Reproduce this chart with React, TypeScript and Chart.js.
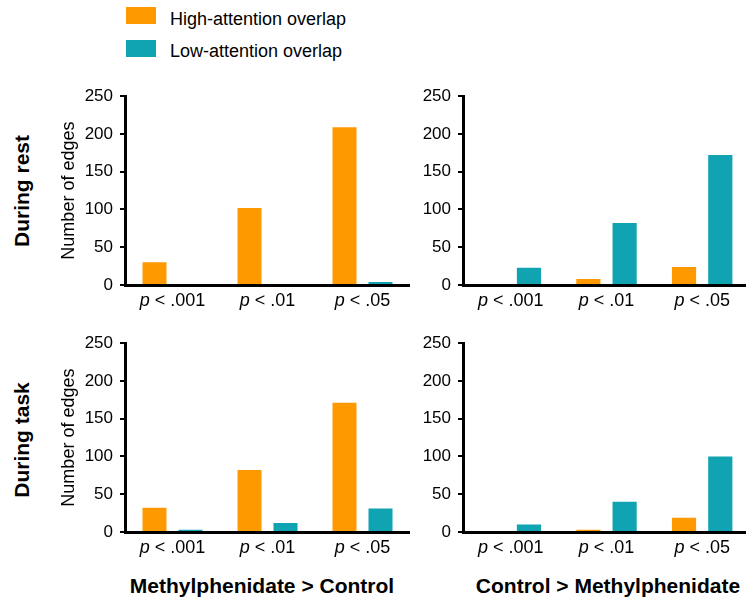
import React, { useEffect, useRef } from "react";
import { Chart, registerables } from "chart.js";

Chart.register(...registerables);

const FONT = '"Liberation Sans", Arial, Helvetica, sans-serif';

// ---- data ----
const THRESHOLDS = [".001", ".01", ".05"];
const SERIES_NAMES = ["High-attention overlap", "Low-attention overlap"];
const SERIES_COLORS = ["#FF9900", "#10A3B2"];

const REST_MPH_GT_CTRL_HIGH = [30, 102, 209];
const REST_MPH_GT_CTRL_LOW = [0, 0, 4];
const REST_CTRL_GT_MPH_HIGH = [0, 8, 24];
const REST_CTRL_GT_MPH_LOW = [23, 82, 172];
const TASK_MPH_GT_CTRL_HIGH = [32, 82, 171];
const TASK_MPH_GT_CTRL_LOW = [3, 12, 31];
const TASK_CTRL_GT_MPH_HIGH = [0, 3, 19];
const TASK_CTRL_GT_MPH_LOW = [10, 40, 100];

const Y_MIN = 0;
const Y_MAX = 250;
const Y_STEP = 50;
const Y_TITLE = "Number of edges";
const ROW_LABELS = ["During rest", "During task"];
const COL_LABELS = ["Methylphenidate > Control", "Control > Methylphenidate"];

const pLabelPlugin = {
  id: "pLabels",
  afterDraw(chart: any) {
    const { ctx, chartArea, scales } = chart;
    const xs = scales.x;
    ctx.save();
    ctx.fillStyle = "#000";
    ctx.textBaseline = "alphabetic";
    ctx.textAlign = "left";
    const italic = `italic 18px ${FONT}`;
    const normal = `18px ${FONT}`;
    const labels = chart.data.labels as string[];
    labels.forEach((t, i) => {
      const cx = xs.getPixelForValue(i);
      const rest = " < " + t;
      ctx.font = italic;
      const w1 = ctx.measureText("p").width;
      ctx.font = normal;
      const w2 = ctx.measureText(rest).width;
      const start = cx - (w1 + w2) / 2;
      const y = chartArea.bottom + 21;
      ctx.font = italic;
      ctx.fillText("p", start, y);
      ctx.font = normal;
      ctx.fillText(rest, start + w1, y);
    });
    ctx.restore();
  },
};

type PanelProps = {
  left: number;
  top: number;
  width: number;
  height: number;
  yWidth: number;
  high: number[];
  low: number[];
  showTitle: boolean;
};

function Panel(p: PanelProps) {
  const ref = useRef<HTMLCanvasElement>(null);
  useEffect(() => {
    if (!ref.current) return;
    const chart = new Chart(ref.current, {
      type: "bar",
      data: {
        labels: THRESHOLDS,
        datasets: [
          {
            label: SERIES_NAMES[0],
            data: p.high,
            backgroundColor: SERIES_COLORS[0],
            borderWidth: 0,
            categoryPercentage: 0.758,
            barPercentage: 0.667,
          },
          {
            label: SERIES_NAMES[1],
            data: p.low,
            backgroundColor: SERIES_COLORS[1],
            borderWidth: 0,
            categoryPercentage: 0.758,
            barPercentage: 0.667,
          },
        ],
      },
      options: {
        animation: false,
        responsive: false,
        devicePixelRatio: 1,
        layout: { padding: 0 },
        plugins: {
          legend: { display: false },
          tooltip: { enabled: false },
          title: { display: false },
        },
        scales: {
          x: {
            type: "category",
            grid: { display: false },
            border: { display: true, color: "#000", width: 3 },
            ticks: { display: false },
            afterFit: (s: any) => {
              s.height = 30;
            },
          },
          y: {
            min: Y_MIN,
            max: Y_MAX,
            ticks: {
              stepSize: Y_STEP,
              color: "#000",
              padding: 7,
              font: { size: 17, family: FONT },
            },
            grid: {
              display: true,
              drawOnChartArea: false,
              drawTicks: true,
              tickLength: 5,
              color: "#000",
              lineWidth: 2,
            },
            border: { display: true, color: "#000", width: 3 },
            title: {
              display: p.showTitle,
              text: Y_TITLE,
              color: "#000",
              font: { size: 18, family: FONT },
              padding: { top: 8, bottom: 0 },
            },
            afterFit: (s: any) => {
              s.width = p.yWidth;
            },
          },
        },
      },
      plugins: [pLabelPlugin],
    } as any);
    return () => chart.destroy();
  }, []);
  return (
    <canvas
      ref={ref}
      width={p.width}
      height={p.height}
      style={{
        position: "absolute",
        left: p.left,
        top: p.top,
        width: p.width,
        height: p.height,
      }}
    />
  );
}

export default function App() {
  const rowText = (text: string, cx: number, cy: number) => (
    <div
      key={text}
      style={{
        position: "absolute",
        left: cx,
        top: cy,
        transform: "translate(-50%, -50%) rotate(-90deg)",
        font: `bold 21px ${FONT}`,
        lineHeight: "21px",
        whiteSpace: "nowrap",
        color: "#000",
      }}
    >
      {text}
    </div>
  );
  const colText = (text: string, cx: number) => (
    <div
      key={text}
      style={{
        position: "absolute",
        left: cx,
        top: 575,
        transform: "translateX(-50%)",
        font: `bold 21px ${FONT}`,
        lineHeight: "21px",
        whiteSpace: "nowrap",
        color: "#000",
      }}
    >
      {text}
    </div>
  );
  return (
    <div
      style={{
        position: "absolute",
        left: 0,
        top: 0,
        width: 746,
        height: 602,
        overflow: "hidden",
        background: "#fff",
      }}
    >
      {SERIES_NAMES.map((name, i) => (
        <React.Fragment key={name}>
          <div
            style={{
              position: "absolute",
              left: 126,
              top: 7 + i * 33,
              width: 30,
              height: 17,
              background: SERIES_COLORS[i],
            }}
          />
          <div
            style={{
              position: "absolute",
              left: 170,
              top: 10 + i * 32,
              font: `18px ${FONT}`,
              lineHeight: "18px",
              whiteSpace: "nowrap",
              color: "#000",
            }}
          >
            {name}
          </div>
        </React.Fragment>
      ))}

      <Panel left={50} top={79} width={360} height={236} yWidth={75}
        high={REST_MPH_GT_CTRL_HIGH} low={REST_MPH_GT_CTRL_LOW} showTitle={true} />
      <Panel left={413} top={79} width={337} height={236} yWidth={50}
        high={REST_CTRL_GT_MPH_HIGH} low={REST_CTRL_GT_MPH_LOW} showTitle={false} />
      <Panel left={50} top={326} width={360} height={236} yWidth={75}
        high={TASK_MPH_GT_CTRL_HIGH} low={TASK_MPH_GT_CTRL_LOW} showTitle={true} />
      <Panel left={413} top={326} width={337} height={236} yWidth={50}
        high={TASK_CTRL_GT_MPH_HIGH} low={TASK_CTRL_GT_MPH_LOW} showTitle={false} />

      {rowText(ROW_LABELS[0], 21, 191)}
      {rowText(ROW_LABELS[1], 21, 440)}
      {colText(COL_LABELS[0], 262)}
      {colText(COL_LABELS[1], 608)}
    </div>
  );
}
